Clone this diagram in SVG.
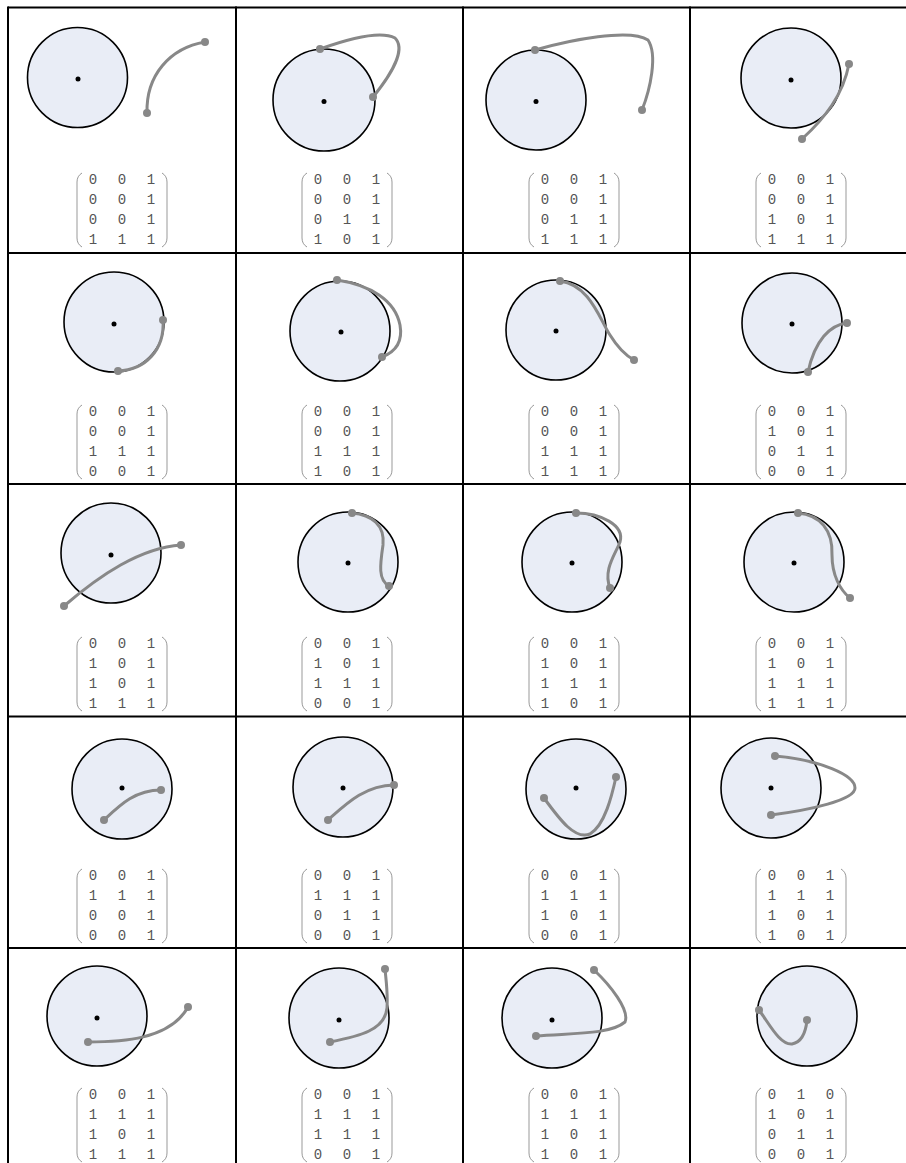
<svg xmlns="http://www.w3.org/2000/svg" width="906" height="1163" viewBox="0 0 906 1163">
<style>
.grid{stroke:#000;stroke-width:2;fill:none}
.disk{fill:#e9edf6;stroke:#000;stroke-width:1.6}
.ctr{fill:#000}
.crv{fill:none;stroke:#888;stroke-width:3;stroke-linecap:round}
.end{fill:#888}
.m{font-family:"Liberation Mono","DejaVu Sans Mono",monospace;font-size:14px;fill:#555;text-anchor:middle}
.par{fill:none;stroke:#999;stroke-width:1}
</style>
<defs>
<path id="lp" class="par" d="M5,0 Q0,3 0,9 L0,65 Q0,71 5,74"/>
<path id="rp" class="par" d="M-5,0 Q0,3 0,9 L0,65 Q0,71 -5,74"/>
</defs>
<rect width="906" height="1163" fill="#fff"/>
<g id="grid" class="grid">
<line x1="8" y1="7.5" x2="906" y2="7.5"/>
<line x1="8" y1="253" x2="906" y2="253"/>
<line x1="8" y1="484" x2="906" y2="484"/>
<line x1="8" y1="716.5" x2="906" y2="716.5"/>
<line x1="8" y1="948" x2="906" y2="948"/>
<line x1="8" y1="6.5" x2="8" y2="1163"/>
<line x1="236" y1="6.5" x2="236" y2="1163"/>
<line x1="463" y1="6.5" x2="463" y2="1163"/>
<line x1="690" y1="6.5" x2="690" y2="1163"/>
</g>

<!-- Row 1 -->
<g id="c00">
<circle class="disk" cx="77.5" cy="77.5" r="50"/><circle class="ctr" cx="78" cy="79" r="2.5"/>
<path class="crv" d="M147,113 C146,75 170,48 205,42"/><circle class="end" cx="147" cy="113" r="4"/><circle class="end" cx="205" cy="42" r="4"/>
<use href="#lp" x="77" y="173"/><use href="#rp" x="167" y="173"/>
<text class="m" x="93 122 151" y="184">001</text><text class="m" x="93 122 151" y="204">001</text><text class="m" x="93 122 151" y="224">001</text><text class="m" x="93 122 151" y="244">111</text>
</g>
<g id="c01">
<circle class="disk" cx="324" cy="100" r="51"/><circle class="ctr" cx="324" cy="101.5" r="2.5"/>
<path class="crv" d="M320,49 C345,40 380,30 395,38 C405,48 395,70 373,97"/><circle class="end" cx="320" cy="49" r="4"/><circle class="end" cx="373" cy="97" r="4"/>
<use href="#lp" x="302" y="173"/><use href="#rp" x="392" y="173"/>
<text class="m" x="318 347 376" y="184">001</text><text class="m" x="318 347 376" y="204">001</text><text class="m" x="318 347 376" y="224">011</text><text class="m" x="318 347 376" y="244">101</text>
</g>
<g id="c02">
<circle class="disk" cx="536" cy="100" r="50"/><circle class="ctr" cx="536" cy="101.5" r="2.5"/>
<path class="crv" d="M535,50 C570,40 630,28 648,40 C658,55 650,90 642,110"/><circle class="end" cx="535" cy="50" r="4"/><circle class="end" cx="642" cy="110" r="4"/>
<use href="#lp" x="529" y="173"/><use href="#rp" x="619" y="173"/>
<text class="m" x="545 574 603" y="184">001</text><text class="m" x="545 574 603" y="204">001</text><text class="m" x="545 574 603" y="224">011</text><text class="m" x="545 574 603" y="244">111</text>
</g>
<g id="c03">
<circle class="disk" cx="791" cy="78" r="50"/><circle class="ctr" cx="791" cy="80" r="2.5"/>
<path class="crv" d="M849,64 C843,95 825,118 802,139"/><circle class="end" cx="849" cy="64" r="4"/><circle class="end" cx="802" cy="139" r="4"/>
<use href="#lp" x="756" y="173"/><use href="#rp" x="846" y="173"/>
<text class="m" x="772 801 830" y="184">001</text><text class="m" x="772 801 830" y="204">001</text><text class="m" x="772 801 830" y="224">101</text><text class="m" x="772 801 830" y="244">111</text>
</g>

<!-- Row 2 -->
<g id="c10">
<circle class="disk" cx="114" cy="322" r="50"/><circle class="ctr" cx="114" cy="324" r="2.5"/>
<path class="crv" d="M163,320 C165,350 145,370 118,371"/><circle class="end" cx="163" cy="320" r="4"/><circle class="end" cx="118" cy="371" r="4"/>
<use href="#lp" x="77" y="405"/><use href="#rp" x="167" y="405"/>
<text class="m" x="93 122 151" y="416">001</text><text class="m" x="93 122 151" y="436">001</text><text class="m" x="93 122 151" y="456">111</text><text class="m" x="93 122 151" y="476">001</text>
</g>
<g id="c11">
<circle class="disk" cx="340" cy="331" r="50"/><circle class="ctr" cx="341" cy="332" r="2.5"/>
<path class="crv" d="M337,280 C370,285 395,300 400,325 C403,342 395,352 382,357"/><circle class="end" cx="337" cy="280" r="4"/><circle class="end" cx="382" cy="357" r="4"/>
<use href="#lp" x="302" y="405"/><use href="#rp" x="392" y="405"/>
<text class="m" x="318 347 376" y="416">001</text><text class="m" x="318 347 376" y="436">001</text><text class="m" x="318 347 376" y="456">111</text><text class="m" x="318 347 376" y="476">101</text>
</g>
<g id="c12">
<circle class="disk" cx="556" cy="330" r="50"/><circle class="ctr" cx="556" cy="331" r="2.5"/>
<path class="crv" d="M560,281 C590,285 600,320 610,335 C618,348 625,355 634,360"/><circle class="end" cx="560" cy="281" r="4"/><circle class="end" cx="634" cy="360" r="4"/>
<use href="#lp" x="529" y="405"/><use href="#rp" x="619" y="405"/>
<text class="m" x="545 574 603" y="416">001</text><text class="m" x="545 574 603" y="436">001</text><text class="m" x="545 574 603" y="456">111</text><text class="m" x="545 574 603" y="476">111</text>
</g>
<g id="c13">
<circle class="disk" cx="792" cy="323" r="50"/><circle class="ctr" cx="792" cy="324" r="2.5"/>
<path class="crv" d="M847,323 C830,325 815,340 808,372"/><circle class="end" cx="847" cy="323" r="4"/><circle class="end" cx="808" cy="372" r="4"/>
<use href="#lp" x="756" y="405"/><use href="#rp" x="846" y="405"/>
<text class="m" x="772 801 830" y="416">001</text><text class="m" x="772 801 830" y="436">101</text><text class="m" x="772 801 830" y="456">011</text><text class="m" x="772 801 830" y="476">001</text>
</g>

<!-- Row 3 -->
<g id="c20">
<circle class="disk" cx="111" cy="553" r="50"/><circle class="ctr" cx="111" cy="555" r="2.5"/>
<path class="crv" d="M64,606 C100,575 140,548 181,545"/><circle class="end" cx="64" cy="606" r="4"/><circle class="end" cx="181" cy="545" r="4"/>
<use href="#lp" x="77" y="637"/><use href="#rp" x="167" y="637"/>
<text class="m" x="93 122 151" y="648">001</text><text class="m" x="93 122 151" y="668">101</text><text class="m" x="93 122 151" y="688">101</text><text class="m" x="93 122 151" y="708">111</text>
</g>
<g id="c21">
<circle class="disk" cx="348" cy="562" r="50"/><circle class="ctr" cx="348" cy="563" r="2.5"/>
<path class="crv" d="M352,513 C372,515 385,525 383,545 C380,565 378,580 389,586"/><circle class="end" cx="352" cy="513" r="4"/><circle class="end" cx="389" cy="586" r="4"/>
<use href="#lp" x="302" y="637"/><use href="#rp" x="392" y="637"/>
<text class="m" x="318 347 376" y="648">001</text><text class="m" x="318 347 376" y="668">101</text><text class="m" x="318 347 376" y="688">111</text><text class="m" x="318 347 376" y="708">001</text>
</g>
<g id="c22">
<circle class="disk" cx="572" cy="562" r="50"/><circle class="ctr" cx="572" cy="563" r="2.5"/>
<path class="crv" d="M576,513 C600,513 625,525 620,542 C615,555 603,570 610,588"/><circle class="end" cx="576" cy="513" r="4"/><circle class="end" cx="610" cy="588" r="4"/>
<use href="#lp" x="529" y="637"/><use href="#rp" x="619" y="637"/>
<text class="m" x="545 574 603" y="648">001</text><text class="m" x="545 574 603" y="668">101</text><text class="m" x="545 574 603" y="688">111</text><text class="m" x="545 574 603" y="708">101</text>
</g>
<g id="c23">
<circle class="disk" cx="794" cy="562" r="50"/><circle class="ctr" cx="794" cy="563" r="2.5"/>
<path class="crv" d="M798,513 C820,515 833,530 832,555 C832,575 840,590 850,598"/><circle class="end" cx="798" cy="513" r="4"/><circle class="end" cx="850" cy="598" r="4"/>
<use href="#lp" x="756" y="637"/><use href="#rp" x="846" y="637"/>
<text class="m" x="772 801 830" y="648">001</text><text class="m" x="772 801 830" y="668">101</text><text class="m" x="772 801 830" y="688">111</text><text class="m" x="772 801 830" y="708">111</text>
</g>

<!-- Row 4 -->
<g id="c30">
<circle class="disk" cx="122" cy="789" r="50"/><circle class="ctr" cx="122" cy="788" r="2.5"/>
<path class="crv" d="M104,820 C120,805 135,790 161,790"/><circle class="end" cx="104" cy="820" r="4"/><circle class="end" cx="161" cy="790" r="4"/>
<use href="#lp" x="77" y="869"/><use href="#rp" x="167" y="869"/>
<text class="m" x="93 122 151" y="880">001</text><text class="m" x="93 122 151" y="900">111</text><text class="m" x="93 122 151" y="920">001</text><text class="m" x="93 122 151" y="940">001</text>
</g>
<g id="c31">
<circle class="disk" cx="343" cy="787" r="50"/><circle class="ctr" cx="343" cy="788" r="2.5"/>
<path class="crv" d="M328,820 C345,805 365,785 394,785"/><circle class="end" cx="328" cy="820" r="4"/><circle class="end" cx="394" cy="785" r="4"/>
<use href="#lp" x="302" y="869"/><use href="#rp" x="392" y="869"/>
<text class="m" x="318 347 376" y="880">001</text><text class="m" x="318 347 376" y="900">111</text><text class="m" x="318 347 376" y="920">011</text><text class="m" x="318 347 376" y="940">001</text>
</g>
<g id="c32">
<circle class="disk" cx="576" cy="789" r="50"/><circle class="ctr" cx="576" cy="788" r="2.5"/>
<path class="crv" d="M544,798 C560,820 575,840 590,834 C605,825 612,795 616,777"/><circle class="end" cx="544" cy="798" r="4"/><circle class="end" cx="616" cy="777" r="4"/>
<use href="#lp" x="529" y="869"/><use href="#rp" x="619" y="869"/>
<text class="m" x="545 574 603" y="880">001</text><text class="m" x="545 574 603" y="900">111</text><text class="m" x="545 574 603" y="920">101</text><text class="m" x="545 574 603" y="940">001</text>
</g>
<g id="c33">
<circle class="disk" cx="771" cy="788" r="50"/><circle class="ctr" cx="771" cy="788" r="2.5"/>
<path class="crv" d="M775,756 C820,760 855,775 855,788 C855,800 810,810 771,815"/><circle class="end" cx="775" cy="756" r="4"/><circle class="end" cx="771" cy="815" r="4"/>
<use href="#lp" x="756" y="869"/><use href="#rp" x="846" y="869"/>
<text class="m" x="772 801 830" y="880">001</text><text class="m" x="772 801 830" y="900">111</text><text class="m" x="772 801 830" y="920">101</text><text class="m" x="772 801 830" y="940">101</text>
</g>

<!-- Row 5 -->
<g id="c40">
<circle class="disk" cx="97" cy="1016" r="50"/><circle class="ctr" cx="97" cy="1018" r="2.5"/>
<path class="crv" d="M88,1042 C120,1042 170,1040 188,1007"/><circle class="end" cx="88" cy="1042" r="4"/><circle class="end" cx="188" cy="1007" r="4"/>
<use href="#lp" x="77" y="1088"/><use href="#rp" x="167" y="1088"/>
<text class="m" x="93 122 151" y="1099">001</text><text class="m" x="93 122 151" y="1119">111</text><text class="m" x="93 122 151" y="1139">101</text><text class="m" x="93 122 151" y="1159">111</text>
</g>
<g id="c41">
<circle class="disk" cx="339" cy="1018" r="50"/><circle class="ctr" cx="339" cy="1020" r="2.5"/>
<path class="crv" d="M330,1042 C360,1036 385,1030 387,1008 C388,993 386,980 385,969"/><circle class="end" cx="330" cy="1042" r="4"/><circle class="end" cx="385" cy="969" r="4"/>
<use href="#lp" x="302" y="1088"/><use href="#rp" x="392" y="1088"/>
<text class="m" x="318 347 376" y="1099">001</text><text class="m" x="318 347 376" y="1119">111</text><text class="m" x="318 347 376" y="1139">111</text><text class="m" x="318 347 376" y="1159">001</text>
</g>
<g id="c42">
<circle class="disk" cx="552" cy="1018" r="50"/><circle class="ctr" cx="552" cy="1020" r="2.5"/>
<path class="crv" d="M536,1036 C570,1033 610,1035 625,1022 C630,1010 610,985 594,970"/><circle class="end" cx="536" cy="1036" r="4"/><circle class="end" cx="594" cy="970" r="4"/>
<use href="#lp" x="529" y="1088"/><use href="#rp" x="619" y="1088"/>
<text class="m" x="545 574 603" y="1099">001</text><text class="m" x="545 574 603" y="1119">111</text><text class="m" x="545 574 603" y="1139">101</text><text class="m" x="545 574 603" y="1159">101</text>
</g>
<g id="c43">
<circle class="disk" cx="807" cy="1016" r="50"/><circle class="ctr" cx="807" cy="1020" r="2.5"/>
<path class="crv" d="M759,1010 C770,1025 780,1045 792,1044 C803,1042 806,1030 807,1020"/><circle class="end" cx="759" cy="1010" r="4"/><circle class="end" cx="807" cy="1020" r="4"/>
<use href="#lp" x="756" y="1088"/><use href="#rp" x="846" y="1088"/>
<text class="m" x="772 801 830" y="1099">010</text><text class="m" x="772 801 830" y="1119">101</text><text class="m" x="772 801 830" y="1139">011</text><text class="m" x="772 801 830" y="1159">001</text>
</g>
</svg>
